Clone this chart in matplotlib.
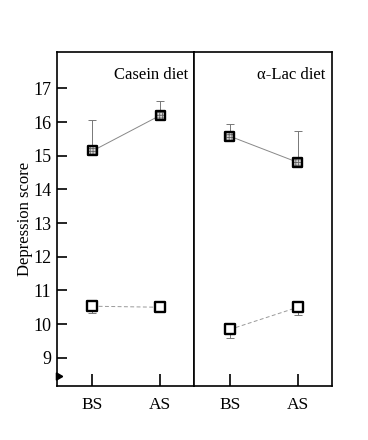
import matplotlib
matplotlib.use("Agg")
import matplotlib.pyplot as plt

plt.rcParams['font.family'] = ['Liberation Serif', 'DejaVu Serif']
plt.rcParams['hatch.linewidth'] = 0.6

timepoints = ["BS", "AS"]
panels = ["Casein diet", "\u03b1-Lac diet"]
# high (stress-vulnerable, hatched) group
high_mean = [[15.14, 16.20], [15.58, 14.80]]
high_err = [[0.93, 0.42], [0.35, 0.94]]
# low (open squares) group
low_mean = [[10.53, 10.50], [9.84, 10.50]]
low_err = [[0.20, 0.06], [0.24, 0.22]]
yticks = [9, 10, 11, 12, 13, 14, 15, 16, 17]

fig = plt.figure(figsize=(3.68, 4.40), dpi=100)
L, B, T = 57/368, 1-385.7/440, 1-52/440
M, R = 194.3/368, 332/368
axes = [fig.add_axes([L, B, M-L, T-B]), fig.add_axes([M, B, R-M, T-B])]

x = [1, 2]
for i, ax in enumerate(axes):
    ax.plot(x, high_mean[i], color='#888888', lw=0.7, zorder=1)
    ax.plot(x, low_mean[i], color='#999999', lw=0.7, ls=(0, (4, 2.5)), zorder=1)
    ax.errorbar(x, high_mean[i], yerr=[[0, 0], high_err[i]], fmt='none',
                ecolor='#777777', elinewidth=0.7, capsize=3, capthick=0.7, zorder=1)
    ax.errorbar(x, low_mean[i], yerr=[low_err[i], [0, 0]], fmt='none',
                ecolor='#777777', elinewidth=0.7, capsize=3, capthick=0.7, zorder=1)
    ax.scatter(x, high_mean[i], marker='s', s=42, facecolor='#d8d8d8',
               edgecolor='#666666', linewidths=0, hatch='++++++', zorder=3)
    ax.scatter(x, high_mean[i], marker='s', s=42, facecolor='none',
               edgecolor='black', linewidths=1.7, zorder=4)
    ax.scatter(x, low_mean[i], marker='s', s=42, facecolor='white',
               edgecolor='black', linewidths=1.7, zorder=3)
    ax.set_xlim(0.48, 2.5)
    ax.set_ylim(8.17, 18.08)
    ax.set_xticks(x)
    ax.set_xticklabels(timepoints, fontsize=12.5)
    ax.tick_params(axis='x', direction='in', length=9, width=1.2, pad=8)
    for s in ax.spines.values():
        s.set_linewidth(1.2)
    ax.text(0.955, 0.93, panels[i], transform=ax.transAxes, ha='right',
            va='center', fontsize=12)

axes[0].set_yticks(yticks)
axes[0].set_yticklabels([str(v) for v in yticks], fontsize=13)
axes[0].tick_params(axis='y', direction='in', length=7, width=1.2, pad=4)
axes[0].set_ylabel("Depression score", fontsize=12, labelpad=0)
axes[1].set_yticks([])
# axis break mark
axes[0].plot([0.5], [8.45], marker=(3, 0, -90), markersize=6, color='black',
             clip_on=False, zorder=5)

fig.savefig("out.png", dpi=100)
